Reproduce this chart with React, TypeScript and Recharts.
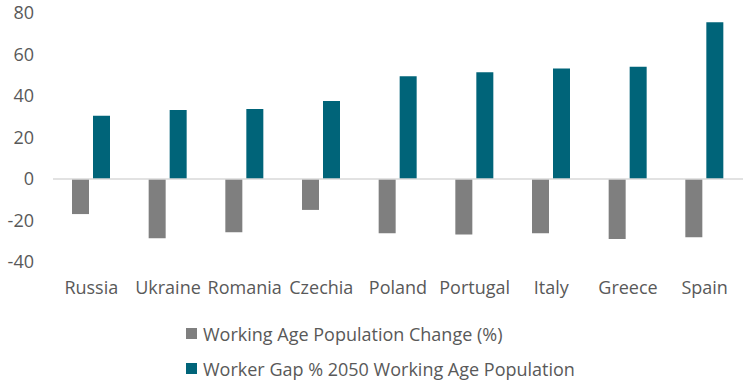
import { Bar, BarChart, XAxis, YAxis, Legend, ReferenceLine } from "recharts"

const countries = ["Russia", "Ukraine", "Romania", "Czechia", "Poland", "Portugal", "Italy", "Greece", "Spain"]
const populationChange = [-16.9, -28.6, -25.7, -14.9, -26.2, -26.7, -26.2, -28.9, -28.1]
const workerGap = [30.5, 33.3, 33.7, 37.6, 49.5, 51.4, 53.2, 54.1, 75.5]
const yTicks = [-40, -20, 0, 20, 40, 60, 80]

const seriesNames = ["Working Age Population Change (%)", "Worker Gap % 2050 Working Age Population"]
const seriesColors = ["#7f7f7f", "#006479"]

const FONT = "'Open Sans', sans-serif"
const TEXT = "#595959"

const chartData = countries.map((name, i) => ({
  name,
  change: populationChange[i],
  gap: workerGap[i],
}))

function LegendBox() {
  return (
    <div style={{ height: 88, paddingLeft: 186, paddingTop: 14, boxSizing: "border-box", fontFamily: FONT }}>
      {seriesNames.map((s, i) => (
        <div key={s} style={{ display: "flex", alignItems: "center", height: 35, fontSize: 18, color: TEXT }}>
          <span style={{ width: 11, height: 11, background: seriesColors[i], marginRight: 6, display: "inline-block" }} />
          {s}
        </div>
      ))}
    </div>
  )
}

export default function App() {
  return (
    <div style={{ position: "absolute", left: 0, top: 0, width: 752, height: 390, background: "#fff" }}>
      <BarChart
        width={752}
        height={390}
        data={chartData}
        margin={{ top: 13, right: 9, left: 0, bottom: 0 }}
        barGap={4}
        barSize={17}
      >
        <XAxis
          dataKey="name"
          axisLine={false}
          tickLine={false}
          height={40}
          tickMargin={13}
          tick={{ fill: TEXT, fontSize: 18, fontFamily: FONT }}
        />
        <YAxis
          domain={[-40, 80]}
          ticks={yTicks}
          axisLine={false}
          tickLine={false}
          width={53}
          tickMargin={13}
          tick={{ fill: TEXT, fontSize: 18, fontFamily: FONT }}
        />
        <ReferenceLine y={0} stroke="#d9d9d9" strokeWidth={1.5} />
        <Bar dataKey="change" name={seriesNames[0]} fill={seriesColors[0]} isAnimationActive={false} />
        <Bar dataKey="gap" name={seriesNames[1]} fill={seriesColors[1]} isAnimationActive={false} />
        <Legend verticalAlign="bottom" align="left" wrapperStyle={{ left: 0, width: 752 }} content={() => <LegendBox />} />
      </BarChart>
    </div>
  )
}
